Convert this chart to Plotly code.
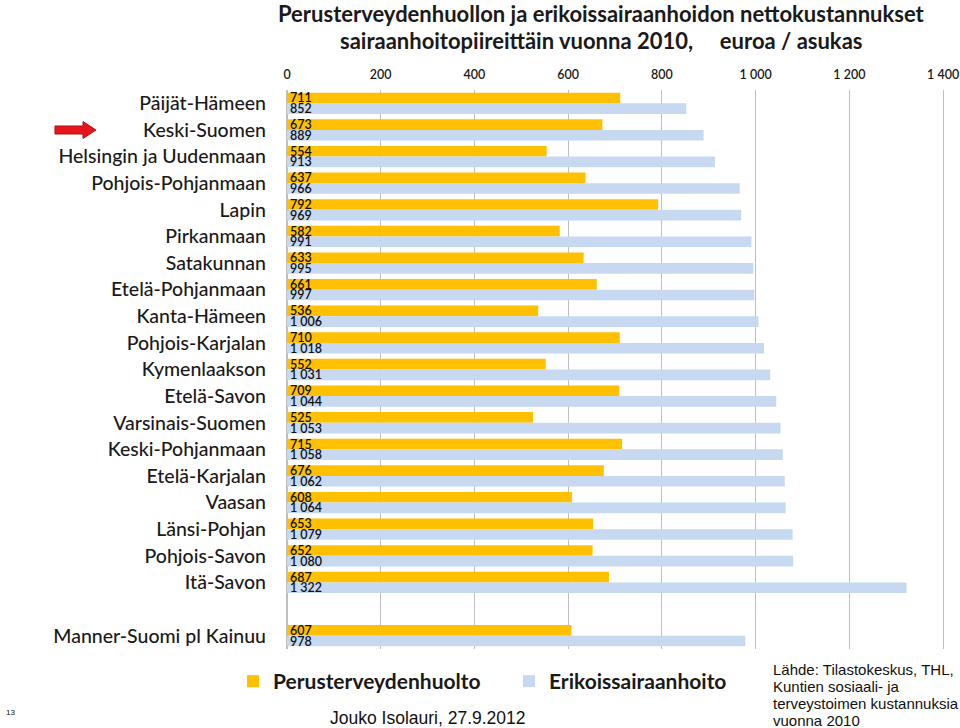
import plotly.graph_objects as go

categories = ["Päijät-Hämeen", "Keski-Suomen", "Helsingin ja Uudenmaan", "Pohjois-Pohjanmaan",
              "Lapin", "Pirkanmaan", "Satakunnan", "Etelä-Pohjanmaan", "Kanta-Hämeen",
              "Pohjois-Karjalan", "Kymenlaakson", "Etelä-Savon", "Varsinais-Suomen",
              "Keski-Pohjanmaan", "Etelä-Karjalan", "Vaasan", "Länsi-Pohjan", "Pohjois-Savon",
              "Itä-Savon", "Manner-Suomi pl Kainuu"]
perus = [711, 673, 554, 637, 792, 582, 633, 661, 536, 710, 552, 709, 525, 715, 676, 608, 653, 652, 687, 607]
erikois = [852, 889, 913, 966, 969, 991, 995, 997, 1006, 1018, 1031, 1044, 1053, 1058, 1062, 1064, 1079, 1080, 1322, 978]
# slot positions (blank slot before the total row)
positions = list(range(19)) + [20]
xticks = [0, 200, 400, 600, 800, 1000, 1200, 1400]
xticktext = ["0", "200", "400", "600", "800", "1 000", "1 200", "1 400"]
source_lines = ["Lähde: Tilastokeskus, THL,", "Kuntien sosiaali- ja",
                "terveystoimen kustannuksia", "vuonna 2010"]

W, H = 960, 728
L, R, T, B = 287, 15, 90, 79
PW, PH = W - L - R, H - T - B

def fmt(v):
    s = str(v)
    return s if v < 1000 else s[:-3] + " " + s[-3:]

def px(x, y):
    return (x - L) / PW, (H - B - y) / PH

fig = go.Figure()
for vals, name, col in [(perus, "Perusterveydenhuolto", "#FFC000"),
                        (erikois, "Erikoissairaanhoito", "#C6D9F1")]:
    fig.add_trace(go.Bar(y=positions, x=vals, orientation="h", name="<b>" + name + "</b>",
                         marker=dict(color=col, line=dict(width=0)),
                         text=[fmt(v) for v in vals], textposition="inside", insidetextanchor="start",
                         textfont=dict(family="Lato", size=12.5, color="#111", weight=600),
                         hoverinfo="skip"))

# red arrow
pts = [(55, 126), (83, 126), (83, 121.5), (96, 130), (83, 138.5), (83, 134), (55, 134)]
path = "M " + " L ".join(f"{px(a, b)[0]:.4f},{px(a, b)[1]:.4f}" for a, b in pts) + " Z"
fig.add_shape(type="path", path=path, xref="paper", yref="paper",
              fillcolor="#E8141B", line=dict(color="#B01015", width=1))

annots = [
    dict(text="<b>Perusterveydenhuollon ja erikoissairaanhoidon nettokustannukset</b>",
         x=px(601, 0)[0], y=px(0, 13)[1], xref="paper", yref="paper", showarrow=False,
         xanchor="center", yanchor="middle",
         font=dict(family="Lato", size=22, color="#1a1a1a")),
    dict(text="<b>sairaanhoitopiireittäin vuonna 2010,     euroa / asukas</b>",
         x=px(601, 0)[0], y=px(0, 40)[1], xref="paper", yref="paper", showarrow=False,
         xanchor="center", yanchor="middle",
         font=dict(family="Lato", size=22, color="#1a1a1a")),
    dict(text="Jouko Isolauri, 27.9.2012", x=px(428, 0)[0], y=px(0, 718)[1], xref="paper", yref="paper",
         showarrow=False, font=dict(family="Liberation Sans", size=17.5, color="#111"),
         xanchor="center", yanchor="middle"),
    dict(text="13", x=px(4, 0)[0], y=px(0, 712)[1], xref="paper", yref="paper",
         showarrow=False, font=dict(family="Liberation Sans", size=8, color="#111"),
         xanchor="left", yanchor="middle"),
]
for i, line in enumerate(source_lines):
    annots.append(dict(text=line, x=px(771, 0)[0], y=px(0, 669 + 17 * i)[1], xref="paper", yref="paper",
                       showarrow=False, xanchor="left", yanchor="middle",
                       font=dict(family="Liberation Sans", size=15, color="#111")))

fig.update_layout(
    width=W, height=H, margin=dict(l=L, r=R, t=T, b=B),
    paper_bgcolor="white", plot_bgcolor="white",
    barmode="group", bargap=0.2, bargroupgap=0,
    uniformtext=dict(minsize=12.5, mode="show"),
    showlegend=True,
    legend=dict(orientation="h", x=px(233, 0)[0], y=px(0, 661)[1], xanchor="left", yanchor="top",
                font=dict(family="Lato", size=21, color="#1a1a1a"),
                itemwidth=30, traceorder="normal", entrywidth=231),
    annotations=annots,
    xaxis=dict(side="top", range=[0, 1404], tickvals=xticks, ticktext=xticktext, automargin=False,
               showgrid=True, gridcolor="#BFBFBF", gridwidth=1, zeroline=True, zerolinecolor="#BFBFBF",
               ticklabelstandoff=8, ticklabeloverflow="allow",
               tickfont=dict(family="Lato", size=12.5, color="#1a1a1a", weight=600), ticks="", fixedrange=True),
    yaxis=dict(range=[20.5, -0.5], tickvals=positions, ticktext=categories, showgrid=False,
               zeroline=False, ticks="", ticklabelstandoff=20, automargin=False,
               tickfont=dict(family="Lato", size=19.5, color="#1a1a1a", weight=500)),
)
fig.write_html("out.html", config={"displayModeBar": False},
               post_script="document.body.style.margin='0';document.body.style.overflow='hidden';")
